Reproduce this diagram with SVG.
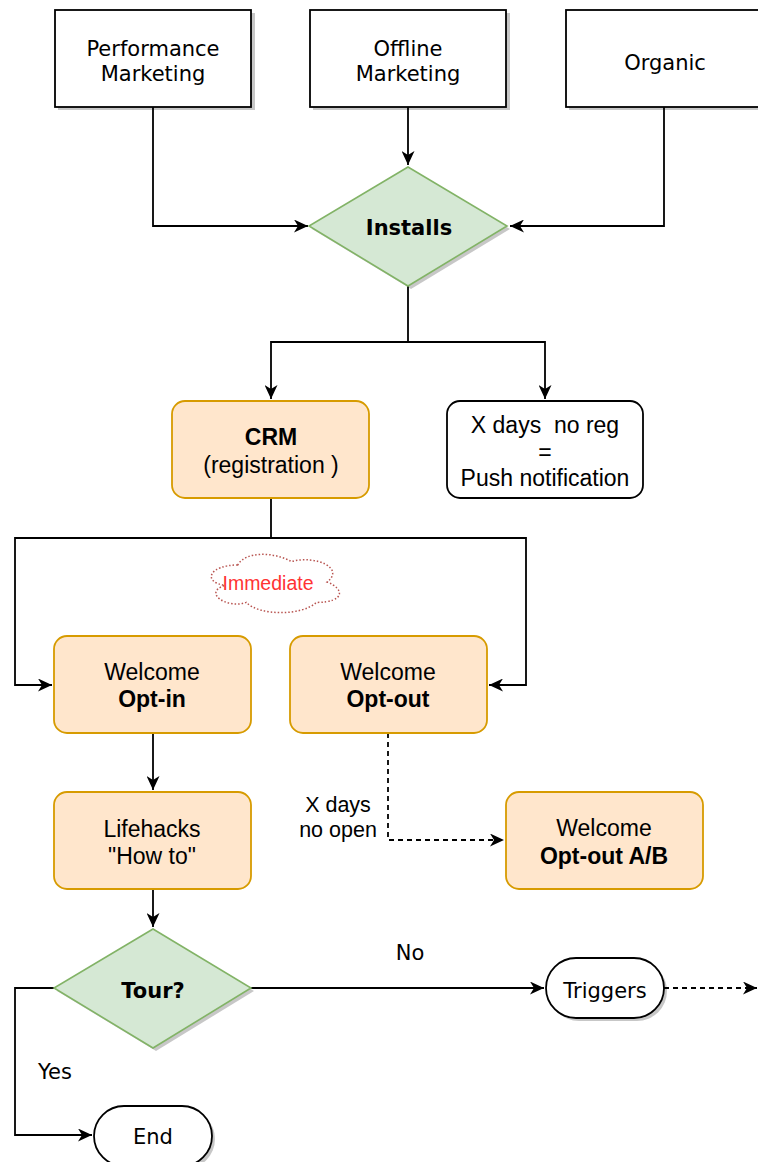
<svg xmlns="http://www.w3.org/2000/svg" width="758" height="1162" viewBox="0 0 758 1162">
<style>
.box{fill:#fff;stroke:#000;stroke-width:1.8}
.sh{fill:#000;opacity:0.22;stroke:none}
.org{fill:#ffe6cc;stroke:#d79b00;stroke-width:1.8}
.grn{fill:#d5e8d4;stroke:#82b366;stroke-width:1.6}
.wht{fill:#fff;stroke:#000;stroke-width:1.8}
.ln{fill:none;stroke:#000;stroke-width:1.8}
.dash{fill:none;stroke:#000;stroke-width:1.8;stroke-dasharray:5 4}
.t1{font-family:"DejaVu Sans",Verdana,sans-serif;font-size:21px;fill:#000;text-anchor:middle}
.t2{font-family:"Liberation Sans",Arial,sans-serif;font-size:23px;fill:#000;text-anchor:middle}
.b{font-weight:bold}
</style>
<defs>
<marker id="arr" markerUnits="userSpaceOnUse" markerWidth="15" markerHeight="13" refX="14" refY="6.5" orient="auto">
<path d="M0,0 L14,6.5 L0,13 L4,6.5 Z" fill="#000"/>
</marker>
</defs>
<g id="connectors">
<path class="ln" d="M153,107 V226 H308" marker-end="url(#arr)"/>
<path class="ln" d="M408,107 V165" marker-end="url(#arr)"/>
<path class="ln" d="M664,107 V226 H510" marker-end="url(#arr)"/>
<path class="ln" d="M408,286 V342 H271 V399" marker-end="url(#arr)"/>
<path class="ln" d="M408,342 H545 V399" marker-end="url(#arr)"/>
<path class="ln" d="M271,499 V538 H15 V685 H52" marker-end="url(#arr)"/>
<path class="ln" d="M271,538 H526 V685 H489" marker-end="url(#arr)"/>
<path class="ln" d="M153,733 V790" marker-end="url(#arr)"/>
<path class="dash" d="M388,733 V840 H504" marker-end="url(#arr)"/>
<path class="ln" d="M153,889 V927" marker-end="url(#arr)"/>
<path class="ln" d="M251,988 H544" marker-end="url(#arr)"/>
<path class="dash" d="M664,988 H757" marker-end="url(#arr)"/>
<path class="ln" d="M54,988 H15 V1135 H92" marker-end="url(#arr)"/>
<text class="t2" style="font-size:21.5px" x="338" y="812">X days</text>
<text class="t2" style="font-size:21.5px" x="338" y="837">no open</text>
<text class="t1" x="410" y="960">No</text>
<text class="t1" x="55" y="1079">Yes</text>
</g>
<g id="perf">
<rect class="sh" x="58" y="13" width="197" height="97"/>
<rect class="box" x="55" y="10" width="196" height="97"/>
<text class="t1" x="153" y="55.5">Performance</text>
<text class="t1" x="153" y="80.5">Marketing</text>
</g>
<g id="offline">
<rect class="sh" x="313" y="13" width="197" height="97"/>
<rect class="box" x="310" y="10" width="196" height="97"/>
<text class="t1" x="408" y="55.5">Offline</text>
<text class="t1" x="408" y="80.5">Marketing</text>
</g>
<g id="organic">
<rect class="sh" x="569" y="13" width="197" height="97"/>
<rect class="box" x="566" y="10" width="196" height="97"/>
<text class="t1" x="665" y="69.5">Organic</text>
</g>
<g id="installs">
<path class="sh" d="M411,170 L510,229 L411,289 L312,229 Z"/>
<path class="grn" d="M408,167 L507,226 L408,286 L309,226 Z"/>
<text class="t1 b" x="409" y="235">Installs</text>
</g>
<g id="crm">
<rect class="org" x="172" y="401" width="197" height="97" rx="13"/>
<text class="t2 b" x="271" y="445">CRM</text>
<text class="t2" x="271" y="473">(registration )</text>
</g>
<g id="xdays">
<rect class="wht" x="447" y="401" width="196" height="97" rx="13"/>
<text class="t2" x="545" y="433" xml:space="preserve" style="white-space:pre">X days  no reg</text>
<text class="t2" x="545" y="460">=</text>
<text class="t2" x="545" y="486">Push notification</text>
</g>
<g id="immediate">
<path d="M237.75,565 C209.15,565 202,582 224.88,585.4 C202,592.88 227.74,609.2 246.33,602.4 C259.2,616 302.1,616 316.4,602.4 C345,602.4 345,588.8 327.13,582 C345,568.4 316.4,554.8 291.38,561.6 C273.5,551.4 244.9,551.4 237.75,565 Z" fill="#fff" stroke="#b85450" stroke-width="1.5" stroke-dasharray="1.5 2"/>
<text x="268" y="590" font-family="'Liberation Sans',Arial,sans-serif" font-size="19.5" fill="#ff3333" text-anchor="middle">Immediate</text>
</g>
<g id="optin">
<rect class="org" x="54" y="636" width="197" height="97" rx="13"/>
<text class="t2" x="152" y="680">Welcome</text>
<text class="t2 b" x="152" y="707">Opt-in</text>
</g>
<g id="optout">
<rect class="org" x="290" y="636" width="197" height="97" rx="13"/>
<text class="t2" x="388" y="680">Welcome</text>
<text class="t2 b" x="388" y="707">Opt-out</text>
</g>
<g id="lifehacks">
<rect class="org" x="54" y="792" width="197" height="97" rx="13"/>
<text class="t2" x="152" y="837">Lifehacks</text>
<text class="t2" x="152" y="864">"How to"</text>
</g>
<g id="optoutab">
<rect class="org" x="506" y="792" width="197" height="97" rx="13"/>
<text class="t2" x="604" y="836">Welcome</text>
<text class="t2 b" x="604" y="864">Opt-out A/B</text>
</g>
<g id="tour">
<path class="sh" d="M156,932 L254,991 L156,1051 L57,991 Z"/>
<path class="grn" d="M153,929 L251,988 L153,1048 L54,988 Z"/>
<text class="t1 b" x="153" y="998">Tour?</text>
</g>
<g id="triggers">
<rect class="sh" x="549" y="961" width="118" height="60" rx="30"/>
<rect class="wht" x="546" y="958" width="118" height="60" rx="30"/>
<text class="t1" x="605" y="998">Triggers</text>
</g>
<g id="end">
<rect class="sh" x="97" y="1109" width="118" height="60" rx="30"/>
<rect class="wht" x="94" y="1106" width="118" height="60" rx="30"/>
<text class="t1" x="153" y="1144">End</text>
</g>
</svg>
